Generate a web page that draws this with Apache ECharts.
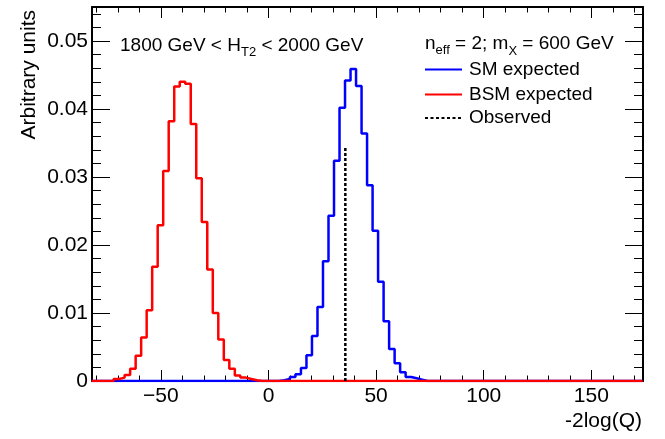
<!DOCTYPE html>
<html><head><meta charset="utf-8">
<script src="https://cdn.jsdelivr.net/npm/echarts@6/dist/echarts.min.js"></script>
<style>html,body{margin:0;padding:0;background:#fff}#c{width:665px;height:439px}</style>
</head><body><div id="c"></div>
<script>
// ---- data ----
const xMin = -82, xMax = 174;
const yMin = 0, yMax = 0.055, yStep = 0.01;
const binLow = -82.2, binWidth = 2.56, nBins = 100;
const smFirstBin = 34;
const smValues = [0.0001,0.0003,0.0006,0.0010,0.0019,0.0038,0.0066,0.0109,0.0176,0.0243,0.0324,0.0402,0.0442,0.0459,0.0434,0.0364,0.0288,0.0221,0.0146,0.0088,0.0047,0.0026,0.0013,0.0006,0.0004,0.0002];
const bsmFirstBin = 4;
const bsmValues = [0.0003,0.0005,0.0009,0.0018,0.0037,0.0064,0.0104,0.0168,0.0229,0.0309,0.0382,0.0433,0.0440,0.0437,0.0378,0.0298,0.0234,0.0164,0.0100,0.0061,0.0031,0.0018,0.0008,0.0005,0.0003,0.0001];
const observedX = 35.7, observedTop = 0.0344;
const seriesNames = ['SM expected', 'BSM expected', 'Observed'];
const seriesColors = ['#0000ff', '#ff0000', '#000000'];
const xTitle = '-2log(Q)', yTitle = 'Arbitrary units';

// ---- build ----
const FONT = '"Liberation Sans", Arial, Helvetica, sans-serif';
function stepData(first, vals) {
  const pts = [];
  for (let j = 0; j < nBins; j++) {
    const v = (j >= first && j < first + vals.length) ? vals[j - first] : 0;
    const lo = binLow + j * binWidth, hi = lo + binWidth;
    pts.push([lo, v]); pts.push([hi, v]);
  }
  return pts;
}
const mctx = document.createElement('canvas').getContext('2d');
function latex(x, y, parts) {
  let cx = x; const out = [];
  parts.forEach(p => {
    mctx.font = p.s + 'px "Liberation Sans"';
    out.push({type: 'text', x: cx, y: y + p.dy, style: {text: p.t, fontSize: p.s, fontFamily: FONT, fill: '#000', align: 'left', verticalAlign: 'middle'}});
    cx += mctx.measureText(p.t).width + (p.gap || 0);
  });
  return out;
}
const tickStyle = {color: '#000', width: 1};
const frame = {show: true, onZero: false, lineStyle: {color: '#000', width: 2}};
function xAx(pos, labels) {
  return {type: 'value', position: pos, min: xMin, max: xMax, gridIndex: 0,
    axisLine: frame, splitLine: {show: false},
    axisTick: {show: true, inside: true, length: 11, lineStyle: tickStyle},
    minorTick: {show: true, splitNumber: 5, length: 5.5, lineStyle: tickStyle},
    axisLabel: {show: labels, margin: 5, fontSize: 21, fontFamily: FONT, color: '#000',
      formatter: v => (Math.abs(v % 50) < 1e-9) ? String(v).replace('-', '\u2212') : ''}};
}
function yAx(pos, labels) {
  return {type: 'value', position: pos, min: yMin, max: yMax, interval: yStep, gridIndex: 0,
    axisLine: frame, splitLine: {show: false},
    axisTick: {show: true, inside: true, length: 18, lineStyle: tickStyle},
    minorTick: {show: true, splitNumber: 5, length: 9, lineStyle: tickStyle},
    axisLabel: {show: labels, margin: 4, fontSize: 21, fontFamily: FONT, color: '#000',
      formatter: v => {
        if (v === 0) return '0';
        const r = Math.round(v * 100);
        return Math.abs(v * 100 - r) < 1e-6 ? (r / 100).toFixed(2) : '';
      }}};
}
const legendY = [69.5, 94.5, 118];
const legendItems = [];
seriesNames.forEach((name, i) => {
  legendItems.push({type: 'line', shape: {x1: 425, y1: legendY[i], x2: 462, y2: legendY[i]},
    style: {stroke: seriesColors[i], lineWidth: 2, lineDash: i === 2 ? [3, 2.5] : null}});
  legendItems.push({type: 'text', x: 469, y: legendY[i], style: {text: name, fontSize: 19, fontFamily: FONT, fill: '#000', align: 'left', verticalAlign: 'middle'}});
});
const graphics = [].concat(
  latex(120, 46, [{t: '1800 GeV < H', s: 19, dy: 0}, {t: 'T2', s: 13, dy: 6}, {t: ' < 2000 GeV', s: 19, dy: 0}]),
  latex(425, 44, [{t: 'n', s: 19, dy: 0}, {t: 'eff', s: 13, dy: 6}, {t: ' = 2; m', s: 19, dy: 0}, {t: 'X', s: 13, dy: 7}, {t: ' = 600 GeV', s: 19, dy: 0}]),
  legendItems,
  [
    {type: 'text', x: 642, y: 421, style: {text: xTitle, fontSize: 21, fontFamily: FONT, fill: '#000', align: 'right', verticalAlign: 'middle'}},
    {type: 'text', x: 29, y: 10, rotation: Math.PI / 2, style: {text: yTitle, fontSize: 21, fontFamily: FONT, fill: '#000', align: 'right', verticalAlign: 'middle'}}
  ]
);
const chart = echarts.init(document.getElementById('c'), null, {renderer: 'canvas'});
chart.setOption({
  animation: false,
  backgroundColor: '#fff',
  grid: {left: 92, right: 22, top: 7, bottom: 58},
  xAxis: [xAx('bottom', true), xAx('top', false)],
  yAxis: [yAx('left', true), yAx('right', false)],
  graphic: graphics,
  series: [
    {name: seriesNames[0], type: 'line', symbol: 'none', data: stepData(smFirstBin, smValues),
      lineStyle: {color: seriesColors[0], width: 2.5}, itemStyle: {color: seriesColors[0]}},
    {name: seriesNames[1], type: 'line', symbol: 'none', data: stepData(bsmFirstBin, bsmValues),
      lineStyle: {color: seriesColors[1], width: 2.5}, itemStyle: {color: seriesColors[1]}},
    {name: seriesNames[2], type: 'line', symbol: 'none', data: [[observedX, 0], [observedX, observedTop]],
      lineStyle: {color: seriesColors[2], width: 2.5, type: [3, 2]}, itemStyle: {color: seriesColors[2]}}
  ]
});
</script></body></html>
